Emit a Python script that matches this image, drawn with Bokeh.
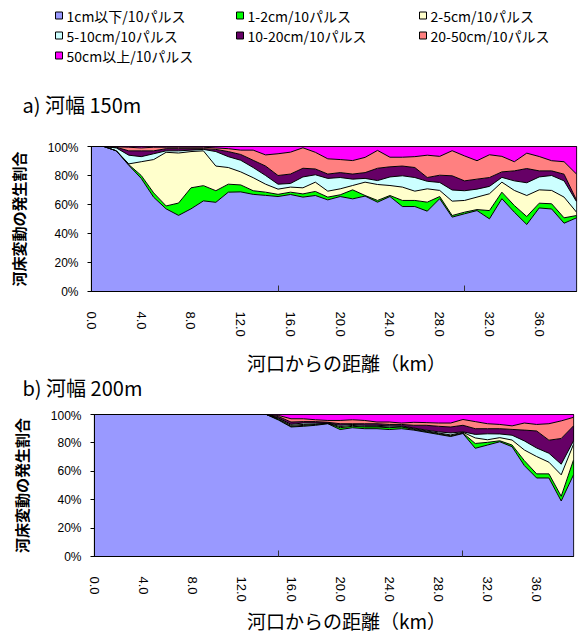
from bokeh.plotting import figure
from bokeh.models import ColumnDataSource, Range1d, FixedTicker, PrintfTickFormatter
from bokeh.layouts import column
from bokeh.embed import file_html
from bokeh.resources import INLINE
from bokeh.core.properties import value

# ---------------- data ----------------
km = list(range(0, 40))                       # distance from river mouth (km), category positions
x_tick_values = [0, 4, 8, 12, 16, 20, 24, 28, 32, 36]
x_mark_values = [15, 30]
y_tick_values = [0, 20, 40, 60, 80, 100]

classes = ["1cm以下/10パルス", "1-2cm/10パルス", "2-5cm/10パルス", "5-10cm/10パルス",
           "10-20cm/10パルス", "20-50cm/10パルス", "50cm以上/10パルス"]
colors = ["#9999FF", "#00FF00", "#FFFFCC", "#CCFFFF", "#660066", "#FF8080", "#FF00FF"]

# a) river width 150 m : share of each class (%)
a_lt1 = [100, 100, 97, 87, 78, 65, 57, 52.5, 57, 62.5,
         61.5, 68.5, 68.7, 67, 66.3, 65.5, 66.9, 65.1, 66.2, 63.2,
         65.5, 63.9, 65.8, 61.6, 65.5, 58.6, 58.6, 55.4, 64, 51.3,
         53.6, 55.8, 50.1, 64, 54.7, 46.2, 57.6, 56.9, 47.1, 50.8]
a_1_2 = [0, 0, 0, 0.5, 2, 3, 2, 8.5, 14.5, 10.5,
         8, 5.5, 4.8, 2.5, 2.2, 1.5, 1.6, 2.2, 2.8, 1.9,
         1.2, 6.2, 0.4, 1.2, 0.7, 4.2, 4.2, 6.2, 1.5, 1.1,
         1.1, 0.7, 5.7, 4.5, 4.6, 5.5, 3.3, 3.6, 3.7, 1.6]
a_2_5 = [0, 0, 0, 0.5, 9.5, 23, 37, 34.5, 25, 24,
         17, 11.5, 9, 9, 5.5, 3.6, 3.5, 4.2, 6.4, 4.1,
         4.1, 3, 9.2, 11, 6.9, 9.2, 6.4, 9.2, 4.2, 9.9,
         8.1, 8.6, 11.6, 6.9, 10.4, 14.5, 9.2, 9.2, 14.3, 2.3]
a_5_10 = [0, 0, 2, 6, 3.5, 4, 1, 1.5, 1, 1,
          10, 7.5, 8, 7, 6, 3.4, 2.5, 7.5, 5.1, 8.8,
          7.8, 4.4, 2.6, 2.7, 5.9, 7.8, 9.4, 5.2, 5.5, 7.7,
          6.7, 5.5, 5.1, 3.3, 6.6, 8.8, 8.9, 10.3, 11.2, 7.3]
a_10_20 = [0, 0, 0.5, 3, 4, 2, 1.5, 1.5, 1, 0.5,
           1.5, 3.5, 4, 5, 6.5, 6, 6.5, 6, 4, 3,
           3.4, 3.5, 4, 8.5, 7, 6.7, 6.9, 2.6, 5, 9.8,
           6.8, 6.9, 6.1, 3.8, 6.9, 9.8, 4.2, 3.2, 4.6, 1]
a_20_50 = [0, 0, 0.3, 2.5, 2, 2.5, 1, 1, 1, 1,
           1, 2, 3, 7, 7.7, 15, 15.1, 14.1, 11.5, 10.5,
           9, 9.3, 10.5, 12.3, 6.6, 6.1, 7.5, 15.4, 13, 17.3,
           17.2, 12.7, 15.7, 10.7, 6.3, 10.6, 9.9, 7, 8.6, 18]
a_gt50 = [0, 0, 0.2, 0.5, 1, 0.5, 0.5, 0.5, 0.5, 0.5,
          1, 1.5, 2.5, 2.5, 5.8, 5, 3.9, 0.9, 4, 8.5,
          9, 9.7, 7.5, 2.7, 7.4, 7.4, 7, 6, 6.8, 2.9,
          6.5, 9.8, 5.7, 6.8, 10.5, 4.6, 6.9, 9.8, 10.5, 19]

# b) river width 200 m : share of each class (%)
b_lt1 = [100, 100, 100, 100, 100, 100, 100, 100, 100, 100,
         100, 100, 100, 100, 100, 96, 91.2, 91.7, 92.4, 93.5,
         89.4, 90.7, 90, 90, 89.4, 90, 89, 87.5, 86, 84.5,
         86.6, 76.2, 78.5, 80.8, 77.3, 64, 55.3, 55.3, 39.1, 57.5]
b_1_2 = [0, 0, 0, 0, 0, 0, 0, 0, 0, 0,
         0, 0, 0, 0, 0, 0.5, 0.5, 0.6, 0.6, 0.2,
         1.3, 1, 1.2, 1.2, 1.3, 1.2, 0.5, 0.5, 0.5, 0.5,
         0.4, 3.4, 1.9, 0.7, 1.2, 3.5, 2.9, 2.9, 3.3, 10.5]
b_2_5 = [0, 0, 0, 0, 0, 0, 0, 0, 0, 0,
         0, 0, 0, 0, 0, 0.5, 0.7, 0.7, 0.3, 0.1,
         0.8, 0.6, 0.5, 0.5, 0.5, 0.3, 0.5, 0.5, 0.5, 0.6,
         0.5, 3.9, 1.8, 2.2, 3.5, 7.5, 12.2, 8.2, 15.1, 11]
b_5_10 = [0, 0, 0, 0, 0, 0, 0, 0, 0, 0,
          0, 0, 0, 0, 0, 0.5, 0.7, 1, 0.7, 0.2,
          0.9, 0.7, 0.7, 0.7, 0.8, 0.5, 0.5, 0.5, 0.8, 1.4,
          0.3, 2.5, 4.2, 2.6, 3.4, 6.4, 6, 6.3, 7.5, 2.4]
b_10_20 = [0, 0, 0, 0, 0, 0, 0, 0, 0, 0,
           0, 0, 0, 0, 0, 1, 1.6, 1, 1, 0.5,
           1.1, 0.5, 1.1, 1.1, 1, 1, 1.9, 3.4, 3.9, 4.2,
           4.6, 4, 3.6, 3.7, 4.1, 7.6, 12, 9.2, 18.1, 10.6]
b_20_50 = [0, 0, 0, 0, 0, 0, 0, 0, 0, 0,
           0, 0, 0, 0, 0, 0.8, 2.3, 2, 1.3, 1.3,
           2.3, 2.8, 2.3, 1.2, 1.7, 1, 2.1, 1.9, 2.3, 2.8,
           4.1, 5, 3.5, 3, 2.5, 5, 4.6, 11.6, 12.4, 6]
b_gt50 = [0, 0, 0, 0, 0, 0, 0, 0, 0, 0,
          0, 0, 0, 0, 0, 0.7, 3, 3, 3.7, 4.2,
          4.2, 3.7, 4.2, 5.3, 5.3, 6, 5.5, 5.7, 6, 6,
          3.5, 5, 6.5, 7, 8, 6, 7, 6.5, 4.5, 2]

title_a = "a) 河幅 150m"
title_b = "b) 河幅 200m"
x_title = "河口からの距離（km）"
y_title = "河床変動の発生割合"

JP = "Noto Sans CJK JP"
NUM = "Liberation Sans"
W = 580


def blank(width, height):
    p = figure(width=width, height=height, x_range=Range1d(0, width), y_range=Range1d(height, 0),
               output_backend="svg", toolbar_location=None, min_border=0,
               min_border_left=0, min_border_right=0, min_border_top=0, min_border_bottom=0,
               x_axis_location=None, y_axis_location=None, outline_line_color=None,
               frame_align=False)
    p.grid.visible = False
    return p


def chart(series, left, right, top, fw, fh, bottom):
    names = ["s%d" % i for i in range(len(series))]
    data = {"km": km}
    for n, s in zip(names, series):
        data[n] = s
    src = ColumnDataSource(data)
    p = figure(width=left + fw + right, height=top + fh + bottom,
               x_range=Range1d(km[0], km[-1]), y_range=Range1d(0, 100),
               output_backend="svg", toolbar_location=None,
               min_border_left=left, min_border_right=right,
               min_border_top=top, min_border_bottom=bottom, frame_align=False)
    p.varea_stack(stackers=names, x="km", fill_color=colors, source=src)
    p.vline_stack(stackers=names, x="km", line_color="black", line_width=1, source=src)
    p.grid.visible = False
    p.outline_line_color = "black"
    p.outline_line_width = 1.2
    p.outline_line_alpha = 1

    xa = p.xaxis[0]
    xa.ticker = FixedTicker(ticks=x_tick_values, minor_ticks=x_mark_values)
    xa.formatter = PrintfTickFormatter(format="%.1f")
    xa.major_label_orientation = "vertical"
    xa.major_tick_line_color = None
    xa.major_tick_in = 0
    xa.major_tick_out = 0
    xa.minor_tick_in = 6
    xa.minor_tick_out = 0
    xa.minor_tick_line_color = "#333333"
    xa.major_label_standoff = 20
    xa.major_label_text_font = NUM
    xa.major_label_text_font_size = "13px"
    xa.major_label_text_color = "black"
    xa.axis_line_color = "black"

    ya = p.yaxis[0]
    ya.ticker = FixedTicker(ticks=y_tick_values)
    ya.formatter = PrintfTickFormatter(format="%d%%")
    ya.major_tick_in = 0
    ya.major_tick_out = 4
    ya.minor_tick_line_color = None
    ya.major_tick_line_color = "black"
    ya.major_label_standoff = 9
    ya.major_label_text_font = NUM
    ya.major_label_text_font_size = "12px"
    ya.major_label_text_color = "black"
    ya.axis_line_color = "black"
    ya.axis_label = y_title
    ya.axis_label_text_font = JP
    ya.axis_label_text_font_size = "15px"
    ya.axis_label_text_font_style = "bold"
    ya.axis_label_text_color = "black"
    ya.axis_label_standoff = 16
    return p


# ---------------- header: legend + title a ----------------
head = blank(W, 140)
leg_cols = [55, 236, 419]
leg_rows = [15, 35, 55]
leg_col_idx = [0, 1, 2, 0, 1, 2, 0]
leg_row_idx = [0, 0, 0, 1, 1, 1, 2]
sq = 7
lx = [leg_cols[c] + sq / 2 for c in leg_col_idx]
ly = [leg_rows[r] for r in leg_row_idx]
tx = [leg_cols[c] + sq + 4 for c in leg_col_idx]
head.rect(x=lx, y=ly, width=sq, height=sq, fill_color=colors, line_color="black", line_width=1)
head.text(x=tx, y=ly, text=classes, text_font=value(JP), text_font_size="14px",
          text_baseline="middle", text_align="left", text_color="black")
head.text(x=[22], y=[104], text=[title_a], text_font=value(JP), text_font_size="20px",
          text_baseline="middle", text_align="left", text_color="black")

# ---------------- chart a ----------------
fig_a = chart([a_lt1, a_1_2, a_2_5, a_5_10, a_10_20, a_20_50, a_gt50],
              left=91, right=4, top=6, fw=485, fh=145, bottom=52)

# ---------------- middle: x title + title b ----------------
mid = blank(W, 65)
mid.text(x=[346], y=[19], text=[x_title], text_font=value(JP), text_font_size="19px",
         text_baseline="middle", text_align="center", text_color="black")
mid.text(x=[22], y=[44], text=[title_b], text_font=value(JP), text_font_size="20px",
         text_baseline="middle", text_align="left", text_color="black")

# ---------------- chart b ----------------
fig_b = chart([b_lt1, b_1_2, b_2_5, b_5_10, b_10_20, b_20_50, b_gt50],
              left=94, right=7, top=6, fw=479, fh=144, bottom=46)

# ---------------- footer: x title ----------------
foot = blank(W, 30)
foot.text(x=[346], y=[16], text=[x_title], text_font=value(JP), text_font_size="19px",
          text_baseline="middle", text_align="center", text_color="black")

layout = column(head, fig_a, mid, fig_b, foot, spacing=0)
open("out.html", "w").write(file_html(layout, INLINE))
